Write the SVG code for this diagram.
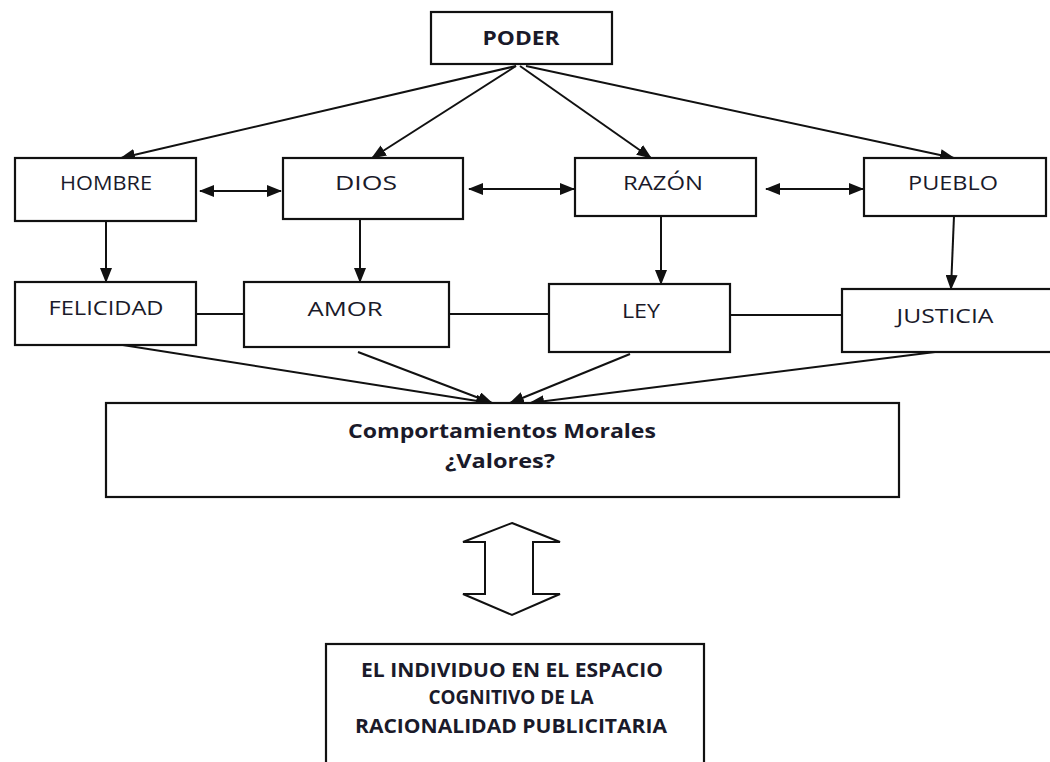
<svg xmlns="http://www.w3.org/2000/svg" width="1050" height="762" viewBox="0 0 1050 762">
<defs>
<marker id="ah" markerUnits="userSpaceOnUse" markerWidth="15" markerHeight="12" refX="14" refY="6" orient="auto-start-reverse" viewBox="0 0 15 12">
<path d="M0,0 L15,6 L0,12 Z" fill="#111"/>
</marker>
</defs>
<style>
.box{fill:#fff;stroke:#111;stroke-width:2.2}
.t{font-family:"Open Sans","Liberation Sans",sans-serif;font-size:20px;fill:#1a1a2a;text-anchor:middle}
.b{font-weight:bold}
.c{stroke:#111;stroke-width:2;fill:none}
.a{marker-end:url(#ah)}
.d{marker-start:url(#ah);marker-end:url(#ah)}
</style>
<rect width="1050" height="762" fill="#fff"/>
<g id="connectors">
<line class="c a" x1="516" y1="66" x2="121" y2="158"/>
<line class="c a" x1="516" y1="66" x2="372" y2="158"/>
<line class="c a" x1="520" y1="66" x2="651" y2="158"/>
<line class="c a" x1="526" y1="66" x2="954" y2="158"/>
<line class="c d" x1="200" y1="191" x2="281" y2="191"/>
<line class="c d" x1="469" y1="189" x2="574" y2="189"/>
<line class="c d" x1="766" y1="189" x2="863" y2="189"/>
<line class="c a" x1="106" y1="221" x2="106" y2="282"/>
<line class="c a" x1="360" y1="219" x2="360" y2="282"/>
<line class="c a" x1="661" y1="216" x2="661" y2="284"/>
<line class="c a" x1="954" y1="216" x2="951" y2="289"/>
<line class="c" x1="196" y1="314" x2="244" y2="314"/>
<line class="c" x1="449" y1="314" x2="549" y2="314"/>
<line class="c" x1="730" y1="315" x2="842" y2="315"/>
<line class="c a" x1="110" y1="343" x2="490" y2="403"/>
<line class="c a" x1="358" y1="352" x2="492" y2="403"/>
<line class="c a" x1="630" y1="354" x2="510" y2="403"/>
<line class="c a" x1="935" y1="352" x2="530" y2="403"/>
</g>
<g id="poder"><rect class="box" x="431" y="12" width="181" height="52"/><text class="t b" x="521" y="45" textLength="77" lengthAdjust="spacingAndGlyphs">PODER</text></g>
<g id="hombre"><rect class="box" x="15" y="158" width="181" height="63"/><text class="t" x="106" y="190" textLength="92" lengthAdjust="spacingAndGlyphs">HOMBRE</text></g>
<g id="dios"><rect class="box" x="283" y="158" width="180" height="61"/><text class="t" x="366" y="190" textLength="62" lengthAdjust="spacingAndGlyphs">DIOS</text></g>
<g id="razon"><rect class="box" x="575" y="158" width="181" height="58"/><text class="t" x="663" y="190" textLength="80" lengthAdjust="spacingAndGlyphs">RAZÓN</text></g>
<g id="pueblo"><rect class="box" x="864" y="158" width="182" height="58"/><text class="t" x="953" y="190" textLength="90" lengthAdjust="spacingAndGlyphs">PUEBLO</text></g>
<g id="felicidad"><rect class="box" x="15" y="282" width="181" height="63"/><text class="t" x="106" y="315" textLength="115" lengthAdjust="spacingAndGlyphs">FELICIDAD</text></g>
<g id="amor"><rect class="box" x="244" y="282" width="205" height="65"/><text class="t" x="345" y="316" textLength="75" lengthAdjust="spacingAndGlyphs">AMOR</text></g>
<g id="ley"><rect class="box" x="549" y="284" width="181" height="68"/><text class="t" x="641" y="318" textLength="38" lengthAdjust="spacingAndGlyphs">LEY</text></g>
<g id="justicia"><rect class="box" x="842" y="289" width="220" height="63"/><text class="t" x="945" y="323" textLength="97" lengthAdjust="spacingAndGlyphs">JUSTICIA</text></g>
<g id="comportamientos"><rect class="box" x="106" y="403" width="793" height="94"/>
<text class="t b" x="502" y="438" textLength="308" lengthAdjust="spacingAndGlyphs">Comportamientos Morales</text>
<text class="t b" x="500" y="468" textLength="110" lengthAdjust="spacingAndGlyphs">¿Valores?</text></g>
<g id="doublearrow"><path d="M512,523 L560,542 L533,542 L533,594 L560,594 L512,615 L463,594 L485,594 L485,542 L463,542 Z" fill="#fff" stroke="#111" stroke-width="2" stroke-linejoin="miter"/></g>
<g id="individuo"><rect class="box" x="326" y="644" width="378" height="140"/>
<text class="t b" x="512" y="677" font-size="19" textLength="302" lengthAdjust="spacingAndGlyphs">EL INDIVIDUO EN EL ESPACIO</text>
<text class="t b" x="511" y="704" font-size="19" textLength="165" lengthAdjust="spacingAndGlyphs">COGNITIVO DE LA</text>
<text class="t b" x="511" y="733" font-size="19" textLength="312" lengthAdjust="spacingAndGlyphs">RACIONALIDAD PUBLICITARIA</text></g>
</svg>
